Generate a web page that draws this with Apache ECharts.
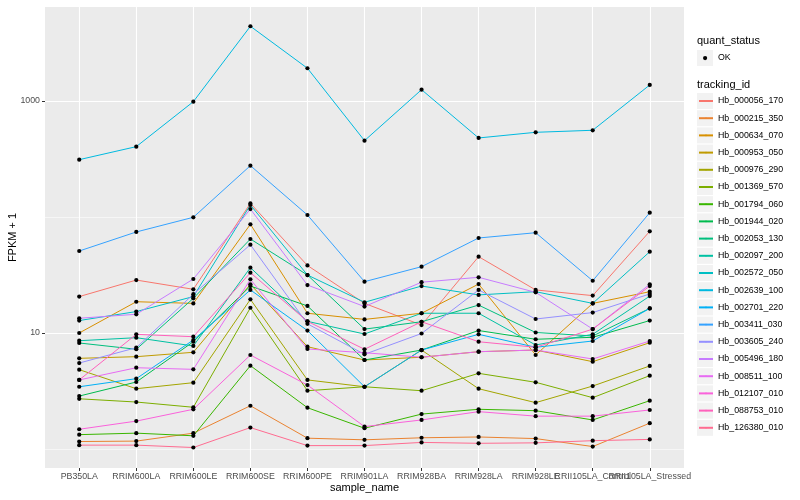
<!DOCTYPE html>
<html><head><meta charset="utf-8">
<script src="https://cdn.jsdelivr.net/npm/echarts@6/dist/echarts.min.js"></script>
<style>html,body{margin:0;padding:0;background:#fff}#c{width:800px;height:500px}</style>
</head><body><div id="c"></div>
<script>
const categories = ['PB350LA','RRIM600LA','RRIM600LE','RRIM600SE','RRIM600PE','RRIM901LA','RRIM928BA','RRIM928LA','RRIM928LE','RRII105LA_Control','RRII105LA_Stressed'];
const yTickLabels = [10, 1000];
const yMinorBreaks = [1, 100];

const hb_000056_170 = [20.6, 28.6, 23.8, 131, 38.2, 18.0, 11.7, 45.5, 23.5, 21.0, 75.3];
const hb_000215_350 = [1.16, 1.17, 1.37, 2.36, 1.24, 1.20, 1.25, 1.27, 1.23, 1.05, 1.67];
const hb_000634_070 = [10.0, 18.6, 18.0, 86.5, 14.8, 13.1, 14.8, 26.4, 6.46, 18.0, 22.7];
const hb_000953_050 = [6.05, 6.25, 6.82, 26.3, 7.62, 5.85, 6.18, 6.90, 7.13, 5.66, 8.25];
const hb_000976_290 = [4.83, 3.31, 3.73, 19.5, 3.94, 3.44, 7.13, 3.31, 2.51, 3.49, 5.20];
const hb_001369_570 = [2.71, 2.54, 2.29, 16.5, 3.18, 3.44, 3.18, 4.49, 3.76, 2.77, 4.29];
const hb_001794_060 = [1.33, 1.37, 1.30, 5.23, 2.27, 1.51, 2.00, 2.20, 2.14, 1.78, 2.61];
const hb_001944_020 = [2.86, 3.78, 8.41, 25.4, 17.1, 5.85, 7.13, 10.5, 8.83, 9.18, 12.8];
const hb_002053_130 = [8.2, 7.24, 19.9, 64.6, 31.6, 10.8, 12.5, 17.4, 10.1, 9.42, 16.3];
const hb_002097_200 = [8.58, 9.11, 7.73, 36.6, 12.6, 9.8, 14.8, 14.8, 7.88, 9.74, 20.8];
const hb_002572_050 = [12.8, 15.3, 20.6, 127, 31.6, 18.4, 25.4, 21.3, 22.7, 18.0, 50.2];
const hb_002639_100 = [312, 404, 986, 4406, 1914, 455, 1251, 480, 537, 559, 1374];
const hb_002701_220 = [3.44, 4.04, 8.7, 23.5, 10.5, 3.44, 7.13, 9.74, 7.53, 8.53, 16.3];
const hb_003411_030 = [50.9, 74.3, 99.4, 277, 104, 27.7, 37.3, 65.9, 73.2, 28.2, 109];
const hb_003605_240 = [5.51, 7.47, 21.6, 57.7, 12.0, 6.55, 9.9, 23.5, 13.2, 15.0, 21.7];
const hb_005496_180 = [13.4, 14.5, 29.2, 117, 25.9, 16.9, 27.4, 30.2, 22.4, 10.8, 26.3];
const hb_008511_100 = [3.94, 5.02, 4.86, 29.0, 7.28, 6.76, 6.18, 6.90, 7.13, 5.97, 8.53];
const hb_012107_010 = [1.48, 1.74, 2.20, 6.46, 3.56, 1.56, 1.78, 2.10, 1.92, 1.92, 2.17];
const hb_088753_010 = [3.94, 9.74, 9.29, 33.1, 12.6, 7.24, 12.5, 8.41, 7.53, 10.8, 25.4];
const hb_126380_010 = [1.08, 1.08, 1.03, 1.53, 1.07, 1.07, 1.14, 1.12, 1.13, 1.18, 1.21];

const trackingIds = ['Hb_000056_170','Hb_000215_350','Hb_000634_070','Hb_000953_050','Hb_000976_290','Hb_001369_570','Hb_001794_060','Hb_001944_020','Hb_002053_130','Hb_002097_200','Hb_002572_050','Hb_002639_100','Hb_002701_220','Hb_003411_030','Hb_003605_240','Hb_005496_180','Hb_008511_100','Hb_012107_010','Hb_088753_010','Hb_126380_010'];
const seriesValues = [hb_000056_170, hb_000215_350, hb_000634_070, hb_000953_050, hb_000976_290, hb_001369_570, hb_001794_060, hb_001944_020, hb_002053_130, hb_002097_200, hb_002572_050, hb_002639_100, hb_002701_220, hb_003411_030, hb_003605_240, hb_005496_180, hb_008511_100, hb_012107_010, hb_088753_010, hb_126380_010];
const lineColors = ['#F8766D','#EA8331','#D89000','#C09B00','#A3A500','#7CAE00','#39B600','#00BB4E','#00BF7D','#00C1A3','#00BFC4','#00BAE0','#00B0F6','#35A2FF','#9590FF','#C77CFF','#E76BF3','#FA62DB','#FF62BC','#FF6C91'];
const quantStatus = 'OK';

const FONT = '"Liberation Sans", Arial, Helvetica, sans-serif';
const chart = echarts.init(document.getElementById('c'), null, {renderer: 'canvas'});

const lineSeries = trackingIds.map((id, k) => ({
  name: id,
  type: 'line',
  xAxisIndex: 0,
  yAxisIndex: 0,
  symbol: 'none',
  color: lineColors[k],
  lineStyle: {width: 1, color: lineColors[k]},
  data: seriesValues[k].map((v, i) => [i, v]),
  z: 3,
  silent: true
}));
const pointData = [];
seriesValues.forEach(arr => arr.forEach((v, i) => pointData.push([i, v])));

const xIdx = categories.map((c, i) => i);
const xEven = xIdx.filter(i => i % 2 === 0);
const xOdd = xIdx.filter(i => i % 2 === 1);
const hidden = 'rgba(0,0,0,0)';
const xLabelStyle = {formatter: v => categories[Math.round(v)], fontSize: 8.8, color: '#4D4D4D', margin: 4, fontFamily: FONT, hideOverlap: false};

const option = {
  animation: false,
  backgroundColor: '#fff',
  textStyle: {fontFamily: FONT},
  title: [
    {text: 'quant_status', left: 697, top: 35, padding: 0, textStyle: {fontSize: 11, fontWeight: 'normal', color: '#000', fontFamily: FONT}},
    {text: 'tracking_id', left: 697, top: 79, padding: 0, textStyle: {fontSize: 11, fontWeight: 'normal', color: '#000', fontFamily: FONT}}
  ],
  grid: {left: 45, right: 116, top: 7, bottom: 32, show: true, backgroundColor: '#EBEBEB', borderWidth: 0, containLabel: false, outerBoundsMode: 'none'},
  xAxis: [{
    type: 'value', min: -0.6, max: 10.6, position: 'bottom',
    name: 'sample_name', nameLocation: 'middle', nameGap: 14, nameMoveOverlap: false,
    nameTextStyle: {fontSize: 11, color: '#000', fontFamily: FONT},
    axisLine: {show: false, onZero: false},
    axisTick: {show: true, length: 3, lineStyle: {color: '#333', width: 1}, customValues: xIdx},
    axisLabel: Object.assign({customValues: xEven}, xLabelStyle),
    splitLine: {show: true, lineStyle: {color: '#fff', width: 1.1}}
  }, {
    type: 'value', min: -0.6, max: 10.6, position: 'bottom',
    axisLine: {show: false, onZero: false},
    axisTick: {show: false, customValues: xOdd},
    axisLabel: Object.assign({customValues: xOdd}, xLabelStyle),
    splitLine: {show: false}
  }],
  yAxis: [{
    type: 'log', logBase: 10, min: 0.686, max: 6457, position: 'left',
    name: 'FPKM + 1', nameLocation: 'middle', nameGap: 27, nameRotate: 90, nameMoveOverlap: false,
    nameTextStyle: {fontSize: 11, color: '#000', fontFamily: FONT},
    axisLine: {show: false, onZero: false},
    axisTick: {show: true, length: 3, lineStyle: {color: '#333', width: 1}, customValues: yTickLabels},
    axisLabel: {customValues: yTickLabels, formatter: v => String(Math.round(v)), fontSize: 8.8, color: '#4D4D4D', margin: 5, fontFamily: FONT},
    splitLine: {show: true, lineStyle: {color: '#fff', width: 1.1}}
  }, {
    type: 'log', logBase: 10, min: 0.686, max: 6457, position: 'left',
    axisLine: {show: false, onZero: false},
    axisTick: {show: false, customValues: yMinorBreaks},
    axisLabel: {show: false, customValues: yMinorBreaks},
    splitLine: {show: true, lineStyle: {color: '#fff', width: 0.55}}
  }],
  legend: [
    {data: [quantStatus], orient: 'vertical', left: 697, top: 50, padding: 0, itemWidth: 16, itemHeight: 16, itemGap: 0, icon: 'rect', selectedMode: false,
     itemStyle: {color: '#F2F2F2'}, textStyle: {fontSize: 8.8, color: '#000', fontFamily: FONT}},
    {data: [quantStatus], orient: 'vertical', left: 703, top: 56, padding: 0, itemWidth: 4.2, itemHeight: 4.2, itemGap: 0, icon: 'circle', selectedMode: false,
     itemStyle: {color: '#000'}, textStyle: {fontSize: 2, lineHeight: 2, color: hidden}},
    {data: trackingIds, orient: 'vertical', left: 697, top: 93, padding: 0, itemWidth: 16, itemHeight: 16, itemGap: 1.2, icon: 'rect', selectedMode: false,
     itemStyle: {color: '#F2F2F2'}, textStyle: {fontSize: 8.8, lineHeight: 16, color: '#000', fontFamily: FONT}},
    {data: trackingIds, orient: 'vertical', left: 698, top: 93, padding: 0, itemWidth: 14, itemHeight: 2, itemGap: 1.2, selectedMode: false,
     textStyle: {fontSize: 8.8, lineHeight: 16, color: hidden, fontFamily: FONT}}
  ],
  series: lineSeries.concat([{
    name: quantStatus,
    type: 'scatter',
    xAxisIndex: 0, yAxisIndex: 0,
    symbol: 'circle', symbolSize: 4.2,
    itemStyle: {color: '#000', opacity: 1},
    data: pointData,
    z: 5,
    silent: true
  }])
};
chart.setOption(option);
</script>
</body></html>
